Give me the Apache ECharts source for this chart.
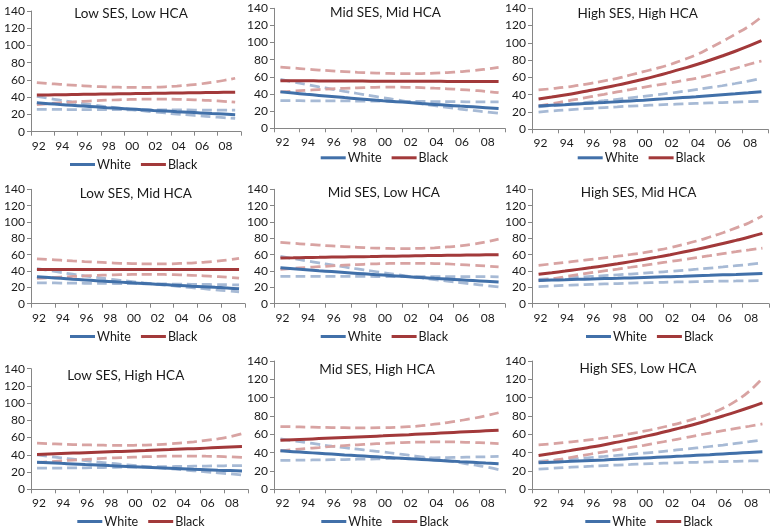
<!DOCTYPE html>
<html>
<head>
<meta charset="utf-8">
<script src="https://cdn.jsdelivr.net/npm/echarts@6/dist/echarts.min.js"></script>
<style>
html,body{margin:0;padding:0;background:#fff;}
#chart{width:774px;height:529px;}
</style>
</head>
<body>
<div id="chart"></div>
<script>
// ---------- DATA ----------
const categories = ['1992','1993','1994','1995','1996','1997','1998','1999','2000','2001','2002','2003','2004','2005','2006','2007','2008','2009'];
const tickLabels = ['92','93','94','95','96','97','98','99','00','01','02','03','04','05','06','07','08','09'];
const panelTitles = ['Low SES, Low HCA','Mid SES, Mid HCA','High SES, High HCA','Low SES, Mid HCA','Mid SES, Low HCA','High SES, Mid HCA','Low SES, High HCA','Mid SES, High HCA','High SES, Low HCA'];
const legendNames = ['White','Black'];

// Panel 1: Low SES, Low HCA
const p1White    = [33.5,32.5,31.5,30.6,29.7,28.8,27.9,27.1,26.3,25.5,24.7,24.0,23.2,22.5,21.8,21.1,20.5,19.8];
const p1WhiteCiA = [41.0,38.7,36.5,34.5,32.6,30.7,29.0,27.4,25.8,24.4,23.0,21.7,20.5,19.4,18.3,17.3,16.3,15.4];
const p1WhiteCiB = [26.0,25.9,25.8,25.7,25.7,25.6,25.5,25.5,25.4,25.4,25.3,25.3,25.2,25.2,25.1,25.1,25.0,25.0];
const p1Black    = [42.5,42.7,42.9,43.1,43.3,43.5,43.7,43.9,44.1,44.3,44.5,44.7,44.9,45.1,45.3,45.5,45.7,45.9];
const p1BlackCiA = [57.0,55.9,54.9,54.0,53.2,52.5,52.0,51.6,51.4,51.4,51.6,52.1,52.9,54.0,55.4,57.2,59.4,62.0];
const p1BlackCiB = [31.5,32.5,33.5,34.4,35.2,35.9,36.5,37.0,37.4,37.7,37.8,37.8,37.6,37.2,36.7,36.0,35.2,34.2];

// Panel 2: Mid SES, Mid HCA
const p2White    = [42.5,41.1,39.7,38.4,37.1,35.8,34.6,33.4,32.2,31.1,30.0,28.9,27.9,26.9,25.9,25.0,24.0,23.1];
const p2WhiteCiA = [57.0,54.0,51.2,48.4,45.8,43.1,40.6,38.1,35.7,33.3,30.9,28.6,26.4,24.4,22.5,20.8,19.2,17.5];
const p2WhiteCiB = [32.3,32.2,32.1,32.0,32.0,31.9,31.8,31.7,31.6,31.5,31.4,31.3,31.2,31.1,31.0,30.9,30.8,30.7];
const p2Black    = [55.5,55.4,55.4,55.3,55.2,55.2,55.1,55.0,55.0,54.9,54.9,54.8,54.8,54.7,54.7,54.6,54.6,54.5];
const p2BlackCiA = [71.5,70.3,69.1,68.0,67.0,66.1,65.3,64.7,64.2,63.9,63.8,63.9,64.3,65.0,66.0,67.3,69.0,71.0];
const p2BlackCiB = [42.5,43.4,44.3,45.2,46.0,46.7,47.3,47.7,48.0,48.0,47.8,47.4,46.8,46.1,45.2,44.2,43.1,41.5];

// Panel 3: High SES, High HCA
const p3White    = [27.0,27.8,28.5,29.3,30.2,31.0,31.9,32.8,33.7,34.7,35.7,36.7,37.7,38.8,39.9,41.0,42.2,43.4];
const p3WhiteCiA = [26.0,27.3,28.7,30.1,31.6,33.1,34.7,36.4,38.1,39.9,41.8,43.8,45.9,48.1,50.4,53.0,55.8,58.8];
const p3WhiteCiB = [20.0,21.2,22.3,23.3,24.3,25.2,26.0,26.8,27.5,28.2,28.8,29.4,30.0,30.5,31.0,31.5,32.0,32.4];
const p3Black    = [35.0,37.3,39.7,42.3,45.1,48.0,51.1,54.5,58.0,61.8,65.9,70.2,74.7,79.6,84.8,90.3,96.2,102.5];
const p3BlackCiA = [45.5,47.0,48.6,50.8,53.2,56.0,59.0,62.8,66.7,70.5,74.8,80.2,86.0,93.5,101.4,110.0,118.8,130.0];
const p3BlackCiB = [27.0,29.6,32.3,35.0,37.8,40.5,43.2,45.9,48.6,51.1,53.6,56.3,59.0,62.5,66.3,70.5,75.0,79.0];

// Panel 4: Low SES, Mid HCA
const p4White    = [33.0,32.0,31.0,30.0,29.1,28.2,27.3,26.4,25.5,24.7,23.9,23.1,22.3,21.5,20.8,20.0,19.3,18.3];
const p4WhiteCiA = [43.0,40.6,38.3,36.1,34.0,32.1,30.3,28.6,27.0,25.4,23.9,22.4,21.0,19.6,18.3,17.0,15.7,14.5];
const p4WhiteCiB = [25.5,25.4,25.3,25.2,25.0,24.9,24.8,24.6,24.5,24.4,24.2,24.1,23.9,23.8,23.6,23.4,23.2,23.0];
const p4Black    = [41.8,41.8,41.8,41.8,41.8,41.9,41.9,41.9,41.9,41.9,41.9,42.0,42.0,42.0,42.0,42.0,42.0,42.0];
const p4BlackCiA = [55.0,54.1,53.2,52.3,51.5,50.8,50.1,49.5,49.1,48.8,48.7,48.8,49.2,49.8,50.7,51.9,53.5,55.5];
const p4BlackCiB = [31.0,31.8,32.6,33.3,34.0,34.6,35.1,35.5,35.8,35.9,35.9,35.7,35.3,34.8,34.1,33.3,32.4,31.3];

// Panel 5: Mid SES, Low HCA
const p5White    = [44.0,42.8,41.6,40.4,39.3,38.2,37.1,36.0,35.0,34.0,33.0,32.0,31.0,30.1,29.2,28.3,27.4,26.5];
const p5WhiteCiA = [58.0,55.2,52.5,49.9,47.4,44.9,42.5,40.2,38.0,35.8,33.6,31.5,29.5,27.6,25.8,24.0,22.3,20.5];
const p5WhiteCiB = [33.5,33.5,33.4,33.4,33.4,33.3,33.3,33.3,33.2,33.2,33.2,33.1,33.1,33.1,33.0,33.0,33.0,32.9];
const p5Black    = [56.0,56.2,56.5,56.7,57.0,57.2,57.5,57.7,58.0,58.2,58.5,58.7,59.0,59.2,59.4,59.6,59.8,60.0];
const p5BlackCiA = [75.0,73.9,72.8,71.7,70.7,69.8,69.0,68.3,67.8,67.5,67.5,67.8,68.4,69.4,70.8,72.8,75.6,79.0];
const p5BlackCiB = [42.0,43.2,44.3,45.3,46.3,47.2,47.9,48.6,49.1,49.4,49.5,49.4,49.1,48.6,47.9,47.1,46.1,45.0];

// Panel 6: High SES, Mid HCA
const p6White    = [28.5,28.9,29.3,29.8,30.2,30.7,31.1,31.6,32.1,32.6,33.1,33.6,34.2,34.7,35.3,35.8,36.4,37.0];
const p6WhiteCiA = [29.8,30.6,31.5,32.4,33.3,34.3,35.3,36.3,37.4,38.5,39.7,40.9,42.2,43.6,45.0,46.5,48.1,49.8];
const p6WhiteCiB = [21.0,21.7,22.4,23.0,23.6,24.2,24.7,25.2,25.6,26.0,26.4,26.7,27.0,27.3,27.6,27.8,28.0,28.2];
const p6Black    = [36.0,37.9,39.9,42.0,44.2,46.5,48.9,51.5,54.2,57.0,60.0,63.2,66.5,70.0,73.6,77.5,81.6,86.0];
const p6BlackCiA = [47.0,48.7,50.5,52.4,54.3,56.2,58.1,60.2,62.4,65.4,68.7,72.5,76.7,81.6,86.9,92.8,99.2,107.5];
const p6BlackCiB = [28.0,30.5,33.0,35.5,37.9,40.1,42.3,44.6,47.0,49.3,51.6,54.0,56.4,58.8,61.3,63.6,65.9,68.0];

// Panel 7: Low SES, High HCA
const p7White    = [31.5,30.8,30.1,29.5,28.8,28.2,27.5,26.9,26.3,25.7,25.1,24.5,23.9,23.3,22.8,22.2,21.7,21.2];
const p7WhiteCiA = [40.0,38.2,36.5,34.9,33.3,31.8,30.4,29.0,27.7,26.4,25.1,23.9,22.7,21.5,20.3,19.1,17.9,16.5];
const p7WhiteCiB = [24.5,24.6,24.7,24.9,25.0,25.2,25.4,25.6,25.8,26.0,26.2,26.4,26.6,26.8,27.0,27.2,27.4,27.6];
const p7Black    = [40.5,41.0,41.5,42.0,42.5,43.0,43.5,44.0,44.5,45.0,45.6,46.1,46.7,47.2,47.8,48.4,49.0,49.6];
const p7BlackCiA = [53.5,53.0,52.5,52.0,51.6,51.3,51.1,51.0,51.1,51.4,51.9,52.7,53.8,55.1,56.7,58.6,61.0,64.5];
const p7BlackCiB = [31.0,32.0,33.0,33.9,34.7,35.5,36.2,36.8,37.3,37.8,38.2,38.5,38.6,38.6,38.4,38.1,37.6,37.0];

// Panel 8: Mid SES, High HCA
const p8White    = [42.0,41.1,40.2,39.3,38.4,37.5,36.7,35.9,35.0,34.2,33.4,32.6,31.8,31.0,30.2,29.5,28.7,28.0];
const p8WhiteCiA = [55.0,53.0,51.0,49.0,47.0,45.4,43.8,42.2,40.7,39.0,37.2,35.4,33.5,31.3,29.0,26.7,24.4,21.5];
const p8WhiteCiB = [31.5,31.7,31.9,32.1,32.3,32.5,32.8,33.0,33.3,33.5,33.8,34.0,34.3,34.6,34.9,35.2,35.5,35.8];
const p8Black    = [53.5,54.1,54.7,55.3,55.9,56.5,57.1,57.7,58.3,59.0,59.6,60.3,61.0,61.7,62.4,63.1,63.8,64.5];
const p8BlackCiA = [68.5,68.2,67.9,67.6,67.4,67.2,67.1,67.1,67.3,67.7,68.3,69.4,71.0,72.8,75.0,77.4,80.2,83.5];
const p8BlackCiB = [42.0,43.3,44.5,45.6,46.7,47.7,48.6,49.4,50.1,50.7,51.2,51.5,51.7,51.7,51.5,51.1,50.5,49.8];

// Panel 9: High SES, Low HCA
const p9White    = [29.0,29.6,30.2,30.8,31.5,32.1,32.8,33.5,34.2,34.9,35.6,36.3,37.1,37.8,38.6,39.4,40.2,41.0];
const p9WhiteCiA = [30.5,31.5,32.5,33.6,34.7,35.8,37.0,38.2,39.5,40.8,42.2,43.6,45.1,46.7,48.3,50.1,51.9,53.8];
const p9WhiteCiB = [22.0,22.9,23.7,24.5,25.2,25.9,26.5,27.1,27.7,28.2,28.7,29.1,29.5,29.9,30.3,30.6,30.9,31.2];
const p9Black    = [37.0,39.1,41.3,43.6,46.1,48.7,51.5,54.4,57.5,60.7,64.2,67.8,71.6,75.7,80.0,84.5,89.3,94.4];
const p9BlackCiA = [48.5,49.7,51.0,52.5,54.2,56.1,58.3,60.7,63.4,66.4,69.7,73.4,77.6,82.5,88.5,96.5,107.0,121.0];
const p9BlackCiB = [29.0,31.3,33.7,36.1,38.5,40.9,43.3,45.7,48.0,50.6,53.2,55.9,58.7,61.4,64.0,66.5,68.8,71.3];

const panelData = [
  [p1White,p1WhiteCiA,p1WhiteCiB,p1Black,p1BlackCiA,p1BlackCiB],
  [p2White,p2WhiteCiA,p2WhiteCiB,p2Black,p2BlackCiA,p2BlackCiB],
  [p3White,p3WhiteCiA,p3WhiteCiB,p3Black,p3BlackCiA,p3BlackCiB],
  [p4White,p4WhiteCiA,p4WhiteCiB,p4Black,p4BlackCiA,p4BlackCiB],
  [p5White,p5WhiteCiA,p5WhiteCiB,p5Black,p5BlackCiA,p5BlackCiB],
  [p6White,p6WhiteCiA,p6WhiteCiB,p6Black,p6BlackCiA,p6BlackCiB],
  [p7White,p7WhiteCiA,p7WhiteCiB,p7Black,p7BlackCiA,p7BlackCiB],
  [p8White,p8WhiteCiA,p8WhiteCiB,p8Black,p8BlackCiA,p8BlackCiB],
  [p9White,p9WhiteCiA,p9WhiteCiB,p9Black,p9BlackCiA,p9BlackCiB]
];

// ---------- LAYOUT / STYLE ----------
const gridBoxes = [
  {left:31,  top:11,    width:210, height:120.7},
  {left:274, top:8.3,   width:231, height:120},
  {left:532, top:8.3,   width:236, height:121},
  {left:31,  top:189.3, width:214, height:114.4},
  {left:274, top:189.3, width:231, height:114.4},
  {left:532, top:189.3, width:237, height:114.4},
  {left:31,  top:368.7, width:217, height:120.6},
  {left:274, top:361,   width:231, height:128.3},
  {left:532, top:361,   width:237, height:128.3}
];
const titleCenters = [[131,15],[385.5,14],[637.7,14.7],[135.8,194.3],[383.8,194],[638.5,194],[125.8,377],[377,370.3],[638,370]];
const legendLeftTop = [[70,158],[320.7,151.3],[577.7,151.3],[70,330],[320.7,330],[586,330],[77.3,515],[321.3,515],[585.3,515]];

const FONT = 'Lato, "Open Sans", sans-serif';
const AXIS_COLOR = '#868686';
const TEXT_COLOR = '#1a1a1a';
const BLUE = '#4170A9';
const RED = '#A2393A';
const BLUE_LIGHT = '#A7BAD5';
const RED_LIGHT = '#D8A3A2';

const grids = [], xAxes = [], yAxes = [], titles = [], legends = [], series = [];
gridBoxes.forEach((g, i) => {
  grids.push({left:g.left, top:g.top, width:g.width, height:g.height, containLabel:false, outerBoundsMode:'none'});
  xAxes.push({
    type:'category', gridIndex:i, data:tickLabels, boundaryGap:true,
    axisLine:{show:true, lineStyle:{color:AXIS_COLOR, width:1}},
    axisTick:{show:true, interval:1, length:4, inside:false, lineStyle:{color:AXIS_COLOR}},
    axisLabel:{interval:1, margin:8, fontSize:12, color:TEXT_COLOR, fontFamily:FONT, padding:[0,0,0,4]},
    splitLine:{show:false}
  });
  yAxes.push({
    type:'value', gridIndex:i, min:0, max:140, interval:20,
    axisLine:{show:true, lineStyle:{color:AXIS_COLOR, width:1}},
    axisTick:{show:true, length:4, lineStyle:{color:AXIS_COLOR}},
    axisLabel:{margin:6, fontSize:12, color:TEXT_COLOR, fontFamily:FONT},
    splitLine:{show:false}
  });
  titles.push({
    text:panelTitles[i], left:titleCenters[i][0], top:titleCenters[i][1]-8, textAlign:'center', padding:0,
    textStyle:{fontSize:13.5, fontWeight:'normal', color:TEXT_COLOR, fontFamily:FONT}
  });
  legends.push({
    data:legendNames, left:legendLeftTop[i][0], top:legendLeftTop[i][1], padding:0,
    icon:'rect', itemWidth:25, itemHeight:3, itemGap:10, selectedMode:false,
    textStyle:{fontSize:12.5, color:TEXT_COLOR, fontFamily:FONT, padding:[0,0,0,-3]}
  });
  const d = panelData[i];
  const mk = (name, data, color, dashed, width) => ({
    name:name, type:'line', xAxisIndex:i, yAxisIndex:i, data:data,
    symbol:'none', showSymbol:false, smooth:true, silent:true, animation:false,
    lineStyle:{color:color, width:width, type: dashed ? [10,5] : 'solid', cap:'butt'},
    itemStyle:{color:color}
  });
  series.push(mk('White CI', d[1], BLUE_LIGHT, true, 2.75));
  series.push(mk('White CI', d[2], BLUE_LIGHT, true, 2.75));
  series.push(mk('Black CI', d[4], RED_LIGHT, true, 2.75));
  series.push(mk('Black CI', d[5], RED_LIGHT, true, 2.75));
  series.push(mk('White', d[0], BLUE, false, 3));
  series.push(mk('Black', d[3], RED, false, 3));
});

const chart = echarts.init(document.getElementById('chart'), null, {renderer:'canvas'});
chart.setOption({
  backgroundColor:'#ffffff',
  animation:false,
  title:titles, legend:legends, grid:grids, xAxis:xAxes, yAxis:yAxes, series:series
});
</script>
</body>
</html>
